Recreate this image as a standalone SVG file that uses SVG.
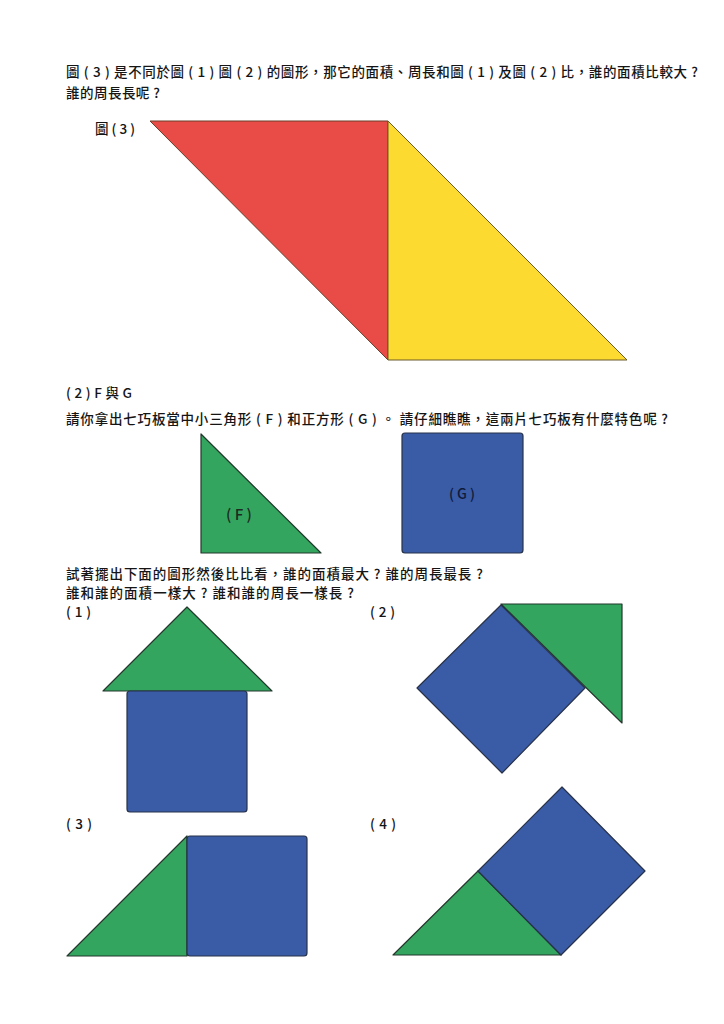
<svg xmlns="http://www.w3.org/2000/svg" width="724" height="1024" viewBox="0 0 724 1024">
<style>
text{font-family:"Noto Sans CJK TC","Noto Sans CJK SC","Noto Sans",sans-serif;fill:#151515;font-size:13.5px;font-weight:500}
.red{fill:#E94B47;stroke:#6b3f2a;stroke-width:1;stroke-linejoin:round}
.yel{fill:#FDDA2F;stroke:#6b5a2a;stroke-width:1;stroke-linejoin:round}
.grn{fill:#33A55E;stroke:#23382c;stroke-width:1.2;stroke-linejoin:round}
.blu{fill:#3A5BA6;stroke:#27324a;stroke-width:1.2;stroke-linejoin:round}
.lbl{font-size:15px;fill:#1c2a20}
</style>
<rect width="724" height="1024" fill="#ffffff"/>
<g id="texts">
<text x="66" y="77" textLength="632" lengthAdjust="spacing">圖 ( 3 ) 是不同於圖 ( 1 ) 圖 ( 2 ) 的圖形，那它的面積、周長和圖 ( 1 ) 及圖 ( 2 ) 比，誰的面積比較大 ?</text>
<text x="66" y="98" textLength="94" lengthAdjust="spacing">誰的周長長呢 ?</text>
<text x="95" y="134" textLength="40" lengthAdjust="spacing">圖 ( 3 )</text>
<text x="66" y="398" textLength="66" lengthAdjust="spacing">( 2 ) F 與 G</text>
<text x="66" y="424" textLength="602" lengthAdjust="spacing">請你拿出七巧板當中小三角形 ( F ) 和正方形 ( G ) 。 請仔細瞧瞧，這兩片七巧板有什麼特色呢 ?</text>
<text x="66" y="579" textLength="417" lengthAdjust="spacing">試著擺出下面的圖形然後比比看，誰的面積最大 ? 誰的周長最長 ?</text>
<text x="66" y="598" textLength="288" lengthAdjust="spacing">誰和誰的面積一樣大 ? 誰和誰的周長一樣長 ?</text>
<text x="66" y="617" textLength="25" lengthAdjust="spacing">( 1 )</text>
<text x="370" y="617" textLength="25" lengthAdjust="spacing">( 2 )</text>
<text x="66" y="829" textLength="26" lengthAdjust="spacing">( 3 )</text>
<text x="370" y="829" textLength="26" lengthAdjust="spacing">( 4 )</text>
</g>
<g id="fig3">
<polygon class="red" points="150,121 388,121 388,360"/>
<polygon class="yel" points="388,121 388,360 627,360"/>
</g>
<g id="F">
<polygon class="grn" points="201,434 201,553 321,553"/>
<text class="lbl" x="239" y="520" text-anchor="middle">( F )</text>
</g>
<g id="G">
<rect class="blu" x="402" y="433" width="121" height="120" rx="3"/>
<text x="462" y="499" text-anchor="middle" style="font-size:14px;fill:#0e1a3a">( G )</text>
</g>
<g id="shape1">
<polygon class="grn" points="187,607 272,691 103,691"/>
<rect class="blu" x="127" y="691" width="120" height="121" rx="3"/>
</g>
<g id="shape2">
<polygon class="grn" points="501,604 622,604 622,723"/>
<polygon class="blu" points="501,605 585,688 502,773 417,688"/>
</g>
<g id="shape3">
<polygon class="grn" points="67,956 187,836 187,956"/>
<rect class="blu" x="187" y="836" width="120" height="120" rx="3"/>
</g>
<g id="shape4">
<polygon class="grn" points="393,955 478,871 561,955"/>
<polygon class="blu" points="562,787 645,871 561,955 478,871"/>
</g>
</svg>
